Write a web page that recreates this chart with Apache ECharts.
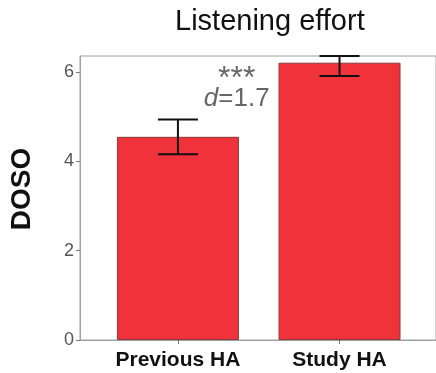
<!DOCTYPE html>
<html><head><meta charset="utf-8">
<script src="https://cdn.jsdelivr.net/npm/echarts@6/dist/echarts.min.js"></script>
<style>html,body{margin:0;padding:0;background:#fff}#c{width:436px;height:373px}</style>
</head><body><div id="c"></div>
<script>
const categories = ['Previous HA', 'Study HA'];
const means = [4.55, 6.21];
const errLow = [4.16, 5.91];
const errHigh = [4.94, 6.36];
const yTicks = [0, 2, 4, 6];
const annotStars = '***';
const annotD = '1.7';

const FONT = 'Arial, "Liberation Sans", sans-serif';
const chart = echarts.init(document.getElementById('c'));
const idx = categories.map((_, i) => i);
chart.setOption({
  animation: false,
  title: {text: 'Listening effort', left: 170, top: 2,
    textStyle: {fontFamily: FONT, fontSize: 29, fontWeight: 'normal', color: '#111'}},
  graphic: [{type: 'text', x: 22, y: 189, rotation: Math.PI / 2,
    style: {text: 'DOSO', font: 'bold 28px ' + FONT, fill: '#111', align: 'center', verticalAlign: 'middle'}}],
  grid: {left: 80, right: -2, top: 56, bottom: 33, show: true, borderColor: '#a0a0a0', borderWidth: 1},
  xAxis: {type: 'value', min: -0.606, max: 1.597,
    axisLine: {show: true, onZero: false, lineStyle: {color: '#a0a0a0'}},
    axisTick: {show: true, customValues: idx, length: 4, lineStyle: {color: '#777'}},
    axisLabel: {customValues: idx, formatter: v => categories[Math.round(v)] || '',
      fontFamily: FONT, fontSize: 21, fontWeight: 'bold', color: '#111', margin: 10},
    splitLine: {show: false}},
  yAxis: {type: 'value', min: 0, max: 6.36,
    axisLine: {show: true, onZero: false, lineStyle: {color: '#a0a0a0'}},
    axisTick: {show: true, customValues: yTicks, length: 4, lineStyle: {color: '#777'}},
    axisLabel: {customValues: yTicks, fontFamily: FONT, fontSize: 18, color: '#555', margin: 6},
    splitLine: {show: false}},
  series: [
    {type: 'bar', barWidth: 122, data: idx.map(i => [i, means[i]]),
      itemStyle: {color: '#f0333b', borderColor: '#8a3a3a', borderWidth: 1}},
    {type: 'custom', data: idx.map(i => [i, errLow[i], errHigh[i]]),
      renderItem: (params, api) => {
        const lo = api.coord([api.value(0), api.value(1)]);
        const hi = api.coord([api.value(0), api.value(2)]);
        const hw = 20;
        const st = {stroke: '#111', lineWidth: 2};
        return {type: 'group', children: [
          {type: 'line', shape: {x1: lo[0], y1: lo[1], x2: hi[0], y2: hi[1]}, style: st},
          {type: 'line', shape: {x1: lo[0]-hw, y1: lo[1], x2: lo[0]+hw, y2: lo[1]}, style: st},
          {type: 'line', shape: {x1: hi[0]-hw, y1: hi[1], x2: hi[0]+hw, y2: hi[1]}, style: st}
        ]};
      }, z: 5},
    {type: 'custom', data: [[0.364, 5.98]],
      renderItem: (params, api) => {
        const p = api.coord([api.value(0), api.value(1)]);
        return {type: 'group', children: [
          {type: 'text', x: p[0], y: p[1] + 6, style: {text: annotStars, fill: '#666',
            font: '32px ' + FONT, align: 'center', verticalAlign: 'middle'}},
          {type: 'text', x: p[0], y: p[1] + 26, style: {
            text: '{i|d}{n|=' + annotD + '}', align: 'center', verticalAlign: 'middle', fill: '#666',
            rich: {i: {fontStyle: 'italic', fontSize: 26, fontFamily: FONT, fill: '#666'},
                   n: {fontSize: 26, fontFamily: FONT, fill: '#666'}}}}
        ]};
      }, z: 6}
  ]
});
</script></body></html>
